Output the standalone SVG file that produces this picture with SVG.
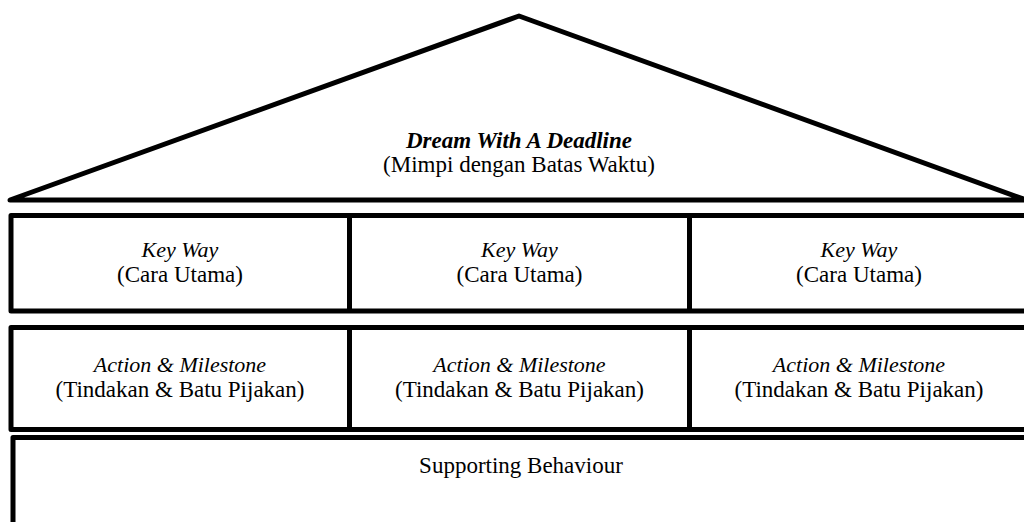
<svg xmlns="http://www.w3.org/2000/svg" width="1024" height="522" viewBox="0 0 1024 522">
<style>
.sh{fill:#fff;stroke:#000;stroke-width:5;stroke-linejoin:round}
.ln{stroke:#000;stroke-width:5}
text{font-family:"Liberation Serif","Times New Roman",serif;font-size:23px;fill:#000;text-anchor:middle}
.it{font-style:italic;font-size:22px}
.bi{font-style:italic;font-weight:bold}
</style>
<rect width="1024" height="522" fill="#fff"/>
<g id="roof">
<polygon class="sh" points="10,200 519,16 1026,200"/>
<text class="bi" x="519" y="148">Dream With A Deadline</text>
<text x="519" y="172">(Mimpi dengan Batas Waktu)</text>
</g>
<g id="keyway-row">
<rect class="sh" x="11" y="215.5" width="1020" height="95.5"/>
</g>
<g id="action-row">
<rect class="sh" x="11" y="327.5" width="1020" height="102"/>
</g>
<g id="dividers">
<line class="ln" x1="349.5" y1="215.5" x2="349.5" y2="311"/>
<line class="ln" x1="689.5" y1="215.5" x2="689.5" y2="311"/>
<line class="ln" x1="349.5" y1="327.5" x2="349.5" y2="429.5"/>
<line class="ln" x1="689.5" y1="327.5" x2="689.5" y2="429.5"/>
</g>
<g id="keyway-1"><text class="it" x="180" y="257">Key Way</text><text x="180" y="282">(Cara Utama)</text></g>
<g id="keyway-2"><text class="it" x="519.5" y="257">Key Way</text><text x="519.5" y="282">(Cara Utama)</text></g>
<g id="keyway-3"><text class="it" x="859" y="257">Key Way</text><text x="859" y="282">(Cara Utama)</text></g>
<g id="action-1"><text class="it" x="180" y="372">Action &amp; Milestone</text><text x="180" y="397">(Tindakan &amp; Batu Pijakan)</text></g>
<g id="action-2"><text class="it" x="519.5" y="372">Action &amp; Milestone</text><text x="519.5" y="397">(Tindakan &amp; Batu Pijakan)</text></g>
<g id="action-3"><text class="it" x="859" y="372">Action &amp; Milestone</text><text x="859" y="397">(Tindakan &amp; Batu Pijakan)</text></g>
<g id="supporting">
<rect class="sh" x="13" y="437.5" width="1020" height="100"/>
<text x="521" y="473">Supporting Behaviour</text>
</g>
</svg>
